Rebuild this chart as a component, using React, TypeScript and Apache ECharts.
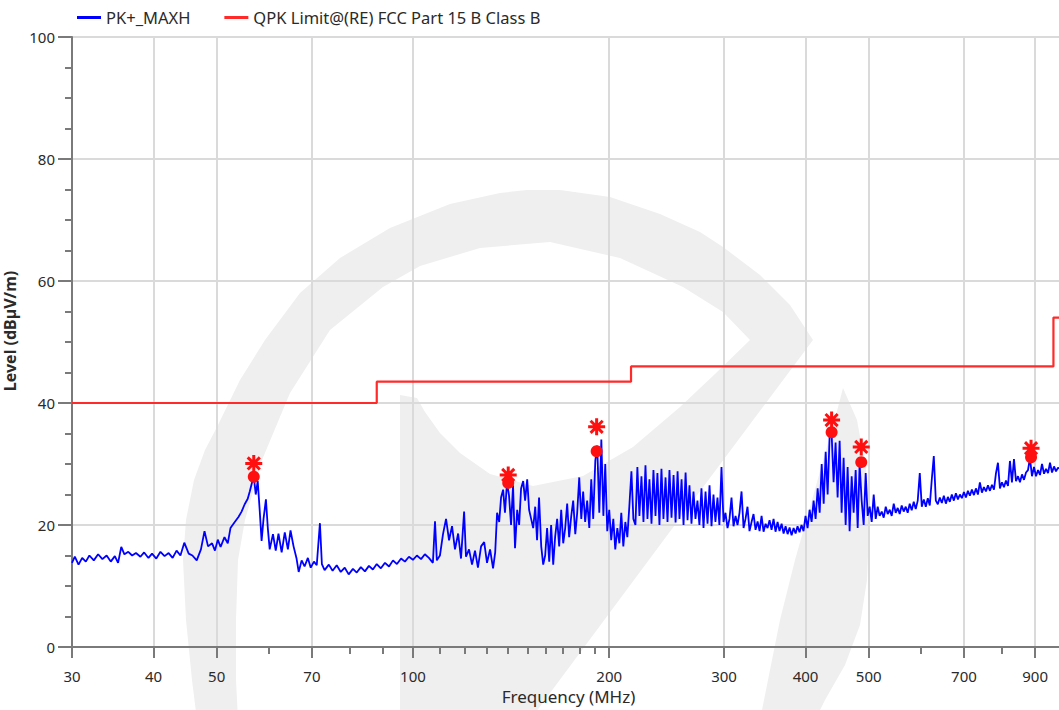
import React, { useEffect, useRef } from "react";
import * as echarts from "echarts";

// ---- data (frequency MHz, level dBµV/m) ----
const band30to100: [number, number][] = [
  [30.0, 13.8], [30.3, 14.8], [30.7, 13.5], [31.1, 14.6], [31.5, 14.0], [31.9, 15.0], [32.4, 14.2], [32.9, 15.2],
  [33.4, 14.4], [33.9, 15.0], [34.4, 14.0], [34.9, 14.9], [35.3, 13.8], [35.7, 16.4], [36.1, 15.2], [36.6, 15.6],
  [37.1, 15.0], [37.6, 15.4], [38.2, 14.8], [38.7, 15.5], [39.3, 14.6], [39.8, 15.3], [40.4, 14.5], [41.0, 15.6],
  [41.6, 14.9], [42.2, 15.4], [42.8, 14.6], [43.4, 15.8], [44.0, 15.0], [44.6, 17.1], [45.3, 15.3], [45.9, 15.0],
  [46.6, 14.2], [47.3, 16.0], [47.9, 19.0], [48.5, 16.5], [49.2, 17.0], [49.7, 15.8], [50.2, 17.6], [50.7, 16.4],
  [51.4, 18.0], [52.0, 17.0], [52.5, 19.5], [53.3, 20.5], [54.0, 21.3], [54.6, 22.2], [55.2, 23.4], [55.8, 24.3],
  [56.2, 25.5], [56.6, 26.8], [57.0, 28.0], [57.4, 25.0], [57.8, 27.2], [58.2, 22.5], [58.6, 17.4], [59.0, 21.0],
  [59.5, 24.2], [59.9, 19.5], [60.3, 16.0], [61.0, 18.5], [61.6, 15.8], [62.2, 18.6], [62.9, 15.5], [63.6, 18.8],
  [64.3, 16.0], [64.9, 19.1], [65.6, 16.5], [66.3, 14.5], [66.8, 12.3], [67.5, 14.2], [68.2, 13.2], [69.0, 14.6],
  [69.7, 13.0], [70.5, 14.0], [71.2, 13.4], [72.0, 20.3], [72.5, 13.6], [73.2, 12.6], [74.3, 13.5], [75.3, 12.5],
  [76.4, 13.4], [77.5, 12.3], [78.6, 13.0], [79.7, 11.9], [80.9, 12.8], [82.0, 12.2], [83.2, 13.1], [84.4, 12.4],
  [85.6, 13.3], [86.8, 12.7], [88.0, 13.6], [89.3, 12.9], [90.6, 13.8], [91.9, 13.2], [93.2, 14.2], [94.5, 13.6],
  [95.9, 14.5], [97.2, 14.0], [98.6, 14.8], [100.0, 14.3],
];

const band100to200: [number, number][] = [
  [101.4, 15.0], [102.9, 14.4], [104.3, 15.2], [105.8, 14.6], [107.3, 13.8], [108.1, 20.6], [108.8, 14.2], [110.0, 15.0],
  [111.2, 18.5], [112.4, 21.0], [113.6, 17.5], [114.8, 19.8], [116.0, 16.0], [117.3, 18.6], [118.5, 14.5], [119.8, 22.2],
  [120.6, 14.8], [121.9, 16.0], [123.2, 13.5], [124.5, 15.8], [125.8, 13.0], [127.2, 16.5], [128.6, 17.2], [129.9, 13.8],
  [131.3, 16.0], [132.7, 12.9], [133.7, 15.5], [134.6, 22.0], [135.6, 20.5], [136.5, 24.5], [137.5, 25.8], [138.4, 22.0],
  [139.4, 27.0], [140.4, 24.8], [141.4, 20.0], [142.4, 26.5], [143.4, 16.2], [144.5, 22.5], [145.5, 20.0], [146.5, 26.0],
  [147.6, 27.2], [148.6, 24.0], [149.7, 27.5], [150.7, 22.5], [151.8, 21.0], [152.9, 19.5], [154.0, 23.0], [155.0, 17.5],
  [156.1, 24.5], [157.3, 16.5], [158.4, 13.5], [159.5, 15.0], [160.6, 19.5], [161.8, 14.0], [162.9, 20.0], [164.1, 13.5],
  [165.2, 18.0], [166.4, 21.0], [167.6, 16.5], [168.8, 22.5], [170.0, 17.0], [171.2, 19.5], [172.4, 23.5], [173.6, 18.0],
  [174.9, 21.5], [176.1, 24.0], [177.4, 18.5], [178.6, 22.0], [179.9, 27.8], [181.2, 21.0], [182.4, 25.5], [183.7, 20.5],
  [185.0, 24.0], [186.4, 19.5], [187.7, 27.5], [189.0, 21.0], [190.4, 30.5], [191.7, 33.0], [193.1, 22.0], [194.5, 34.0],
  [195.9, 21.5], [197.2, 30.0], [198.6, 19.0], [200.0, 22.5],
];

const band200to400: [number, number][] = [
  [201.4, 17.5], [202.9, 21.0], [204.3, 16.0], [205.8, 19.5], [207.3, 17.0], [208.7, 22.0], [210.2, 16.5], [211.7, 20.5],
  [213.2, 18.0], [214.7, 23.0], [216.3, 28.8], [217.8, 21.0], [219.4, 20.0], [220.9, 29.5], [222.5, 21.5], [224.1, 28.0],
  [225.7, 20.5], [227.3, 29.8], [228.9, 21.0], [230.5, 27.5], [232.2, 20.2], [233.8, 29.0], [235.5, 21.5], [237.1, 28.5],
  [238.8, 20.0], [240.5, 29.2], [242.2, 21.0], [244.0, 27.8], [245.7, 20.5], [247.4, 29.0], [249.2, 21.2], [251.0, 28.2],
  [252.8, 20.4], [254.6, 28.8], [256.3, 21.0], [258.2, 27.5], [260.0, 20.0], [261.9, 28.6], [263.7, 20.8], [265.5, 26.5],
  [267.4, 20.2], [269.3, 25.5], [271.2, 21.0], [273.1, 24.0], [275.0, 20.0], [277.0, 26.0], [279.0, 19.5], [281.0, 25.5],
  [283.0, 20.2], [285.0, 26.5], [287.0, 19.8], [289.0, 25.0], [291.0, 20.5], [293.1, 24.5], [295.1, 20.0], [297.3, 29.5],
  [299.4, 20.5], [301.5, 22.0], [303.7, 19.5], [305.8, 21.0], [308.0, 24.5], [310.2, 19.8], [312.4, 21.5], [314.6, 20.0],
  [316.8, 22.0], [319.1, 25.5], [321.4, 19.5], [323.6, 21.0], [325.9, 23.0], [328.2, 19.0], [330.6, 20.5], [332.9, 21.8],
  [335.3, 19.2], [337.7, 20.6], [340.1, 19.0], [342.5, 21.5], [344.9, 18.9], [347.4, 20.2], [349.8, 19.5], [352.3, 20.8],
  [354.8, 19.2], [357.3, 21.0], [359.8, 18.9], [362.4, 20.5], [364.9, 19.0], [367.6, 20.2], [370.2, 18.6], [372.8, 19.8],
  [375.5, 18.5], [378.1, 19.6], [380.8, 18.3], [383.5, 19.5], [386.2, 18.6], [388.9, 19.8], [391.6, 18.8], [394.4, 20.0],
  [397.2, 19.0], [400.0, 21.5],
];

const band400to1000: [number, number][] = [
  [402.9, 19.5], [405.8, 22.5], [408.7, 20.5], [411.6, 24.0], [414.5, 21.0], [417.5, 26.0], [420.5, 22.0], [423.5, 30.0],
  [426.5, 23.5], [429.5, 32.0], [432.5, 25.0], [435.5, 34.5], [438.6, 35.0], [441.7, 27.0], [444.8, 33.5], [448.0, 24.5],
  [451.2, 33.8], [454.4, 22.0], [457.6, 31.0], [460.9, 20.0], [464.1, 29.5], [467.4, 19.0], [470.8, 28.0], [474.1, 22.0],
  [477.5, 29.0], [480.9, 19.5], [484.2, 30.0], [487.7, 24.0], [491.2, 20.0], [494.7, 28.5], [498.2, 21.5], [501.7, 23.0],
  [505.3, 20.5], [508.9, 25.0], [512.5, 21.0], [516.1, 23.0], [519.7, 21.5], [523.5, 22.2], [527.2, 21.2], [531.0, 23.0],
  [534.7, 21.8], [538.5, 22.5], [542.3, 21.5], [546.2, 23.5], [550.0, 22.0], [553.9, 22.8], [557.8, 21.8], [561.8, 23.2],
  [565.8, 22.2], [569.8, 23.0], [573.8, 22.0], [577.9, 23.5], [582.0, 22.4], [586.2, 23.8], [590.3, 22.6], [594.5, 24.0],
  [598.8, 28.5], [603.1, 23.0], [607.4, 24.2], [611.7, 23.0], [616.0, 24.4], [620.3, 23.2], [624.8, 27.5], [629.2, 31.3],
  [633.7, 24.0], [638.2, 23.4], [642.7, 24.5], [647.3, 23.6], [651.9, 24.8], [656.6, 23.5], [661.2, 24.6], [665.8, 23.8],
  [670.6, 25.0], [675.4, 24.0], [680.2, 25.2], [685.1, 24.2], [689.9, 25.0], [694.8, 24.4], [699.8, 25.4], [704.8, 24.5],
  [709.7, 25.6], [714.7, 24.8], [719.8, 25.8], [725.0, 24.9], [730.1, 26.0], [735.3, 25.0], [740.4, 27.0], [745.7, 25.3],
  [751.0, 26.2], [756.4, 25.5], [761.8, 26.5], [767.2, 25.6], [772.7, 26.6], [778.2, 25.8], [783.7, 28.5], [789.2, 30.2],
  [794.7, 26.0], [800.4, 27.0], [806.1, 26.2], [811.8, 27.3], [817.6, 26.4], [823.3, 30.5], [829.2, 27.0], [835.1, 30.8],
  [841.1, 27.2], [847.0, 28.0], [853.0, 27.0], [859.1, 28.3], [865.2, 27.4], [871.4, 28.6], [877.5, 29.0], [883.6, 31.0],
  [889.9, 28.0], [896.3, 29.5], [902.7, 28.0], [909.1, 29.0], [915.5, 28.2], [922.0, 30.0], [928.6, 28.4], [935.2, 29.2],
  [941.8, 28.5], [948.4, 30.2], [955.2, 28.6], [962.0, 29.6], [968.8, 28.8], [975.6, 29.4], [989.4, 29.0], [1000.0, 29.2],
];

const limitFreq = [30, 88, 216, 960, 1000];
const limitLevel = [40, 43.5, 46, 54, 54];

const markerFreq = [57.0, 140.0, 191.3, 438.6, 487.0, 887.0];
const pkMarkerLevel = [30.1, 28.2, 36.1, 37.2, 32.8, 32.6];
const qpMarkerLevel = [27.9, 26.9, 32.1, 35.2, 30.3, 31.1];

const xMajorTicks = [30, 40, 50, 70, 100, 200, 300, 400, 500, 700, 900];
const xMinorTicks = [60, 80, 90, 110, 120, 130, 140, 150, 160, 170, 180, 190, 600, 800];

const seriesPkName = "PK+_MAXH";
const seriesLimitName = "QPK Limit@(RE) FCC Part 15 B Class B";

// watermark outlines (page pixels)
const wmRingPath =
  "M197,720 L192,680 L186,620 L183,560 L186,520 L194,480 L205,450 L217,427 L240,380 L265,340 L300,293 L340,258 " +
  "L390,228 L450,204 L500,193 L527,190 L560,190 L610,197 L660,214 L700,232 L723,247 L760,275 L790,305 L813,340 " +
  "L683,514 L530,720 L400,720 L400,395 L417,398 L425,412 L440,433 L460,453 L490,474 L533,486 L583,476 L633,447 " +
  "L680,407 L715,374 L750,340 L723,312 L683,287 L620,258 L550,242 L480,248 L420,266 L383,287 L330,330 L290,393 " +
  "L262,460 L245,520 L238,560 L236,620 L236,680 L238,720 Z";
const wmBandPath =
  "M843,388 L857,420 L866,470 L869,530 L867,580 L860,625 L845,665 L825,700 L815,720 L760,720 L772,660 L780,620 " +
  "L795,560 L812,500 L826,450 L836,415 Z";

const FONT = "'Noto Sans', sans-serif";
const AXIS_COLOR = "#7a7a7a";
const GRID_COLOR = "#dadada";
const TEXT_COLOR = "#2a2a2a";
const WM_COLOR = "#efefef";

const lg = (f: number) => Math.log10(f);

export default function App() {
  const ref = useRef<HTMLDivElement>(null);

  useEffect(() => {
    if (!ref.current) return;
    echarts.graphic.registerShape("wmRing", echarts.graphic.extendPath(wmRingPath, {}));
    echarts.graphic.registerShape("wmBand", echarts.graphic.extendPath(wmBandPath, {}));

    const chart = echarts.init(ref.current, null, { renderer: "svg" });

    const spectrum = [...band30to100, ...band100to200, ...band200to400, ...band400to1000].map(
      ([f, l]) => [lg(f), l]
    );
    const limit = limitFreq.map((f, i) => [lg(f), limitLevel[i]]);
    const pk = markerFreq.map((f, i) => [lg(f), pkMarkerLevel[i]]);
    const qp = markerFreq.map((f, i) => [lg(f), qpMarkerLevel[i]]);

    chart.setOption({
      animation: false,
      backgroundColor: "#fff",
      textStyle: { fontFamily: FONT },
      graphic: {
        elements: [
          { type: "wmRing", x: 0, y: 0, z: 0, silent: true, style: { fill: WM_COLOR } },
          { type: "wmBand", x: 0, y: 0, z: 0, silent: true, style: { fill: WM_COLOR } },
        ],
      },
      legend: {
        data: [seriesPkName, seriesLimitName],
        left: 72,
        top: 4,
        icon: "rect",
        itemWidth: 24,
        itemHeight: 3,
        itemGap: 34,
        textStyle: { fontSize: 16.5, color: TEXT_COLOR, fontFamily: FONT },
      },
      grid: {
        left: 72,
        right: 1,
        top: 37,
        bottom: 63,
        show: true,
        z: 1,
        outerBoundsMode: "none",
        containLabel: false,
        borderColor: "#808080",
        borderWidth: 2,
        backgroundColor: "transparent",
      },
      xAxis: [
        {
          type: "value",
          min: lg(30),
          max: 3,
          position: "bottom",
          z: 2,
          name: "Frequency (MHz)",
          nameLocation: "middle",
          nameGap: 41,
          nameTextStyle: { fontSize: 17, color: TEXT_COLOR, fontFamily: FONT },
          axisLine: { show: true, onZero: false, lineStyle: { color: AXIS_COLOR, width: 2 } },
          axisTick: {
            show: true,
            customValues: xMajorTicks.map(lg),
            length: 11,
            lineStyle: { color: AXIS_COLOR, width: 2 },
          },
          axisLabel: {
            customValues: xMajorTicks.map(lg),
            formatter: (v: number) => String(Math.round(Math.pow(10, v))),
            margin: 21,
            fontSize: 15,
            color: TEXT_COLOR,
            fontFamily: FONT,
          },
          splitLine: { show: true, lineStyle: { color: GRID_COLOR, width: 2 } },
        },
        {
          type: "value",
          min: lg(30),
          max: 3,
          position: "bottom",
          z: 2,
          axisLine: { show: false },
          axisTick: {
            show: true,
            customValues: xMinorTicks.map(lg),
            length: 7,
            lineStyle: { color: AXIS_COLOR, width: 2 },
          },
          axisLabel: { show: false },
          splitLine: { show: false },
        },
      ],
      yAxis: {
        type: "value",
        min: 0,
        max: 100,
        interval: 20,
        z: 2,
        name: "Level (dBµV/m)",
        nameLocation: "middle",
        nameGap: 44,
        nameRotate: 90,
        nameTextStyle: {
          fontSize: 16,
          color: TEXT_COLOR,
          fontFamily: FONT,
          fontWeight: "bold",
          padding: [0, 0, 0, 22],
        },
        axisLine: { show: true, lineStyle: { color: AXIS_COLOR, width: 2 } },
        axisTick: { show: true, length: 14, lineStyle: { color: AXIS_COLOR, width: 2 } },
        minorTick: { show: true, splitNumber: 4, length: 7, lineStyle: { color: AXIS_COLOR, width: 2 } },
        axisLabel: { margin: 17, fontSize: 15, color: TEXT_COLOR, fontFamily: FONT },
        splitLine: { show: true, lineStyle: { color: GRID_COLOR, width: 2 } },
      },
      series: [
        {
          name: seriesPkName,
          type: "line",
          data: spectrum,
          showSymbol: false,
          symbol: "none",
          color: "#0000ff",
          lineStyle: { color: "#0000ff", width: 1.8 },
          z: 3,
        },
        {
          name: seriesLimitName,
          type: "line",
          data: limit,
          step: "end",
          showSymbol: false,
          symbol: "none",
          color: "#ff2a2a",
          lineStyle: { color: "#ff2a2a", width: 2.2 },
          z: 4,
        },
        {
          name: "QP markers",
          type: "scatter",
          data: qp,
          symbol: "circle",
          symbolSize: 12,
          itemStyle: { color: "#ff1010", opacity: 1 },
          z: 5,
        },
        {
          name: "PK markers",
          type: "scatter",
          data: pk,
          symbol: "path://M8,0L8,16M0,8L16,8M2.3,2.3L13.7,13.7M13.7,2.3L2.3,13.7",
          symbolSize: 17,
          itemStyle: { color: "none", borderColor: "#ff1010", borderWidth: 3, opacity: 1 },
          z: 6,
        },
      ],
    });

    return () => chart.dispose();
  }, []);

  return (
    <div
      ref={ref}
      style={{ position: "fixed", left: 0, top: 0, width: 1066, height: 710, background: "#fff" }}
    />
  );
}
